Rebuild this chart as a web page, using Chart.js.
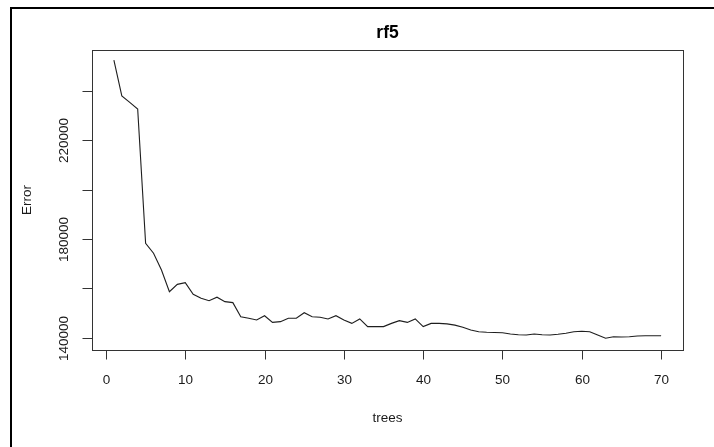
<!DOCTYPE html>
<html>
<head>
<meta charset="utf-8">
<script src="https://cdn.jsdelivr.net/npm/chart.js@4/dist/chart.umd.min.js"></script>
<style>
  html, body { margin: 0; padding: 0; background: #fff; }
  #wrap { position: relative; width: 714px; height: 447px; }
</style>
</head>
<body>
<div id="wrap"><canvas id="c"></canvas></div>
<script>
const chartTitle = "rf5";
const xTitle = "trees";
const yTitle = "Error";
const trees = [1,2,3,4,5,6,7,8,9,10,11,12,13,14,15,16,17,18,19,20,21,22,23,24,25,26,27,28,29,30,31,32,33,34,35,36,37,38,39,40,41,42,43,44,45,46,47,48,49,50,51,52,53,54,55,56,57,58,59,60,61,62,63,64,65,66,67,68,69,70];
const errors = [252400,237900,235300,232600,178200,174200,167400,158600,161600,162300,
                157600,156000,155000,156400,154600,154200,148500,147900,147200,148900,
                146200,146500,147900,147900,150100,148500,148300,147600,148900,147200,
                145800,147600,144500,144500,144500,145800,146900,146200,147600,144500,
                145800,145800,145600,145100,144200,143100,142400,142200,142100,142000,
                141500,141200,141100,141500,141200,141100,141400,141800,142400,142600,
                142400,141100,139800,140400,140300,140400,140700,140800,140800,140800];
const xTicks = [0,10,20,30,40,50,60,70];
const yTicks = [140000,160000,180000,200000,220000,240000];
const yTickLabels = ["140000","","180000","","220000",""];

const FONT = '"Liberation Sans", Arial, sans-serif';

const rAxes = {
  id: 'rAxes',
  afterDraw(chart) {
    const ctx = chart.ctx, xs = chart.scales.x, ys = chart.scales.y, a = chart.chartArea;
    ctx.save();
    // outer screenshot frame
    ctx.fillStyle = '#000';
    ctx.fillRect(10, 7, 704, 2);
    ctx.fillRect(10, 7, 2, 440);
    // plot box
    ctx.strokeStyle = '#333';
    ctx.lineWidth = 1;
    const L = Math.round(a.left) + 0.5, T = Math.round(a.top) + 0.5;
    const R = Math.round(a.right) + 0.5, B = Math.round(a.bottom) + 0.5;
    ctx.strokeRect(L, T, R - L, B - T);
    // x ticks
    ctx.fillStyle = '#1a1a1a';
    ctx.font = '13.5px ' + FONT;
    ctx.textAlign = 'center';
    ctx.textBaseline = 'middle';
    ctx.beginPath();
    xTicks.forEach(v => {
      const px = Math.round(xs.getPixelForValue(v)) + 0.5;
      ctx.moveTo(px, B); ctx.lineTo(px, B + 9);
      ctx.fillText(String(v), px, 380);
    });
    ctx.stroke();
    // y ticks
    ctx.beginPath();
    yTicks.forEach((v, i) => {
      const py = Math.round(ys.getPixelForValue(v)) + 0.5;
      ctx.moveTo(L, py); ctx.lineTo(L - 10, py);
      if (yTickLabels[i]) {
        ctx.save();
        ctx.translate(68, py);
        ctx.rotate(-Math.PI / 2);
        ctx.textBaseline = 'alphabetic';
        ctx.fillText(yTickLabels[i], 0, 0);
        ctx.restore();
      }
    });
    ctx.stroke();
    // axis titles
    ctx.fillText(xTitle, (a.left + a.right) / 2, 418);
    ctx.save();
    ctx.translate(31, (a.top + a.bottom) / 2);
    ctx.rotate(-Math.PI / 2);
    ctx.textBaseline = 'alphabetic';
    ctx.fillText(yTitle, 0, 0);
    ctx.restore();
    // main title
    ctx.font = 'bold 17.5px ' + FONT;
    ctx.fillStyle = '#000';
    ctx.textBaseline = 'middle';
    ctx.fillText(chartTitle, (a.left + a.right) / 2, 33);
    ctx.restore();
  }
};

new Chart(document.getElementById('c'), {
  type: 'line',
  data: {
    datasets: [{
      data: trees.map((t, i) => ({ x: t, y: errors[i] })),
      borderColor: '#1e1e1e',
      borderWidth: 1.1,
      pointRadius: 0,
      tension: 0,
      fill: false
    }]
  },
  options: {
    responsive: true,
    maintainAspectRatio: false,
    animation: false,
    events: [],
    layout: { padding: { left: 92, right: 31, top: 50, bottom: 97 } },
    plugins: { legend: { display: false }, title: { display: false }, tooltip: { enabled: false } },
    scales: {
      x: { type: 'linear', display: false, min: -1.76, max: 72.76 },
      y: { type: 'linear', display: false, min: 135020, max: 256480 }
    }
  },
  plugins: [rAxes]
});
</script>
</body>
</html>
